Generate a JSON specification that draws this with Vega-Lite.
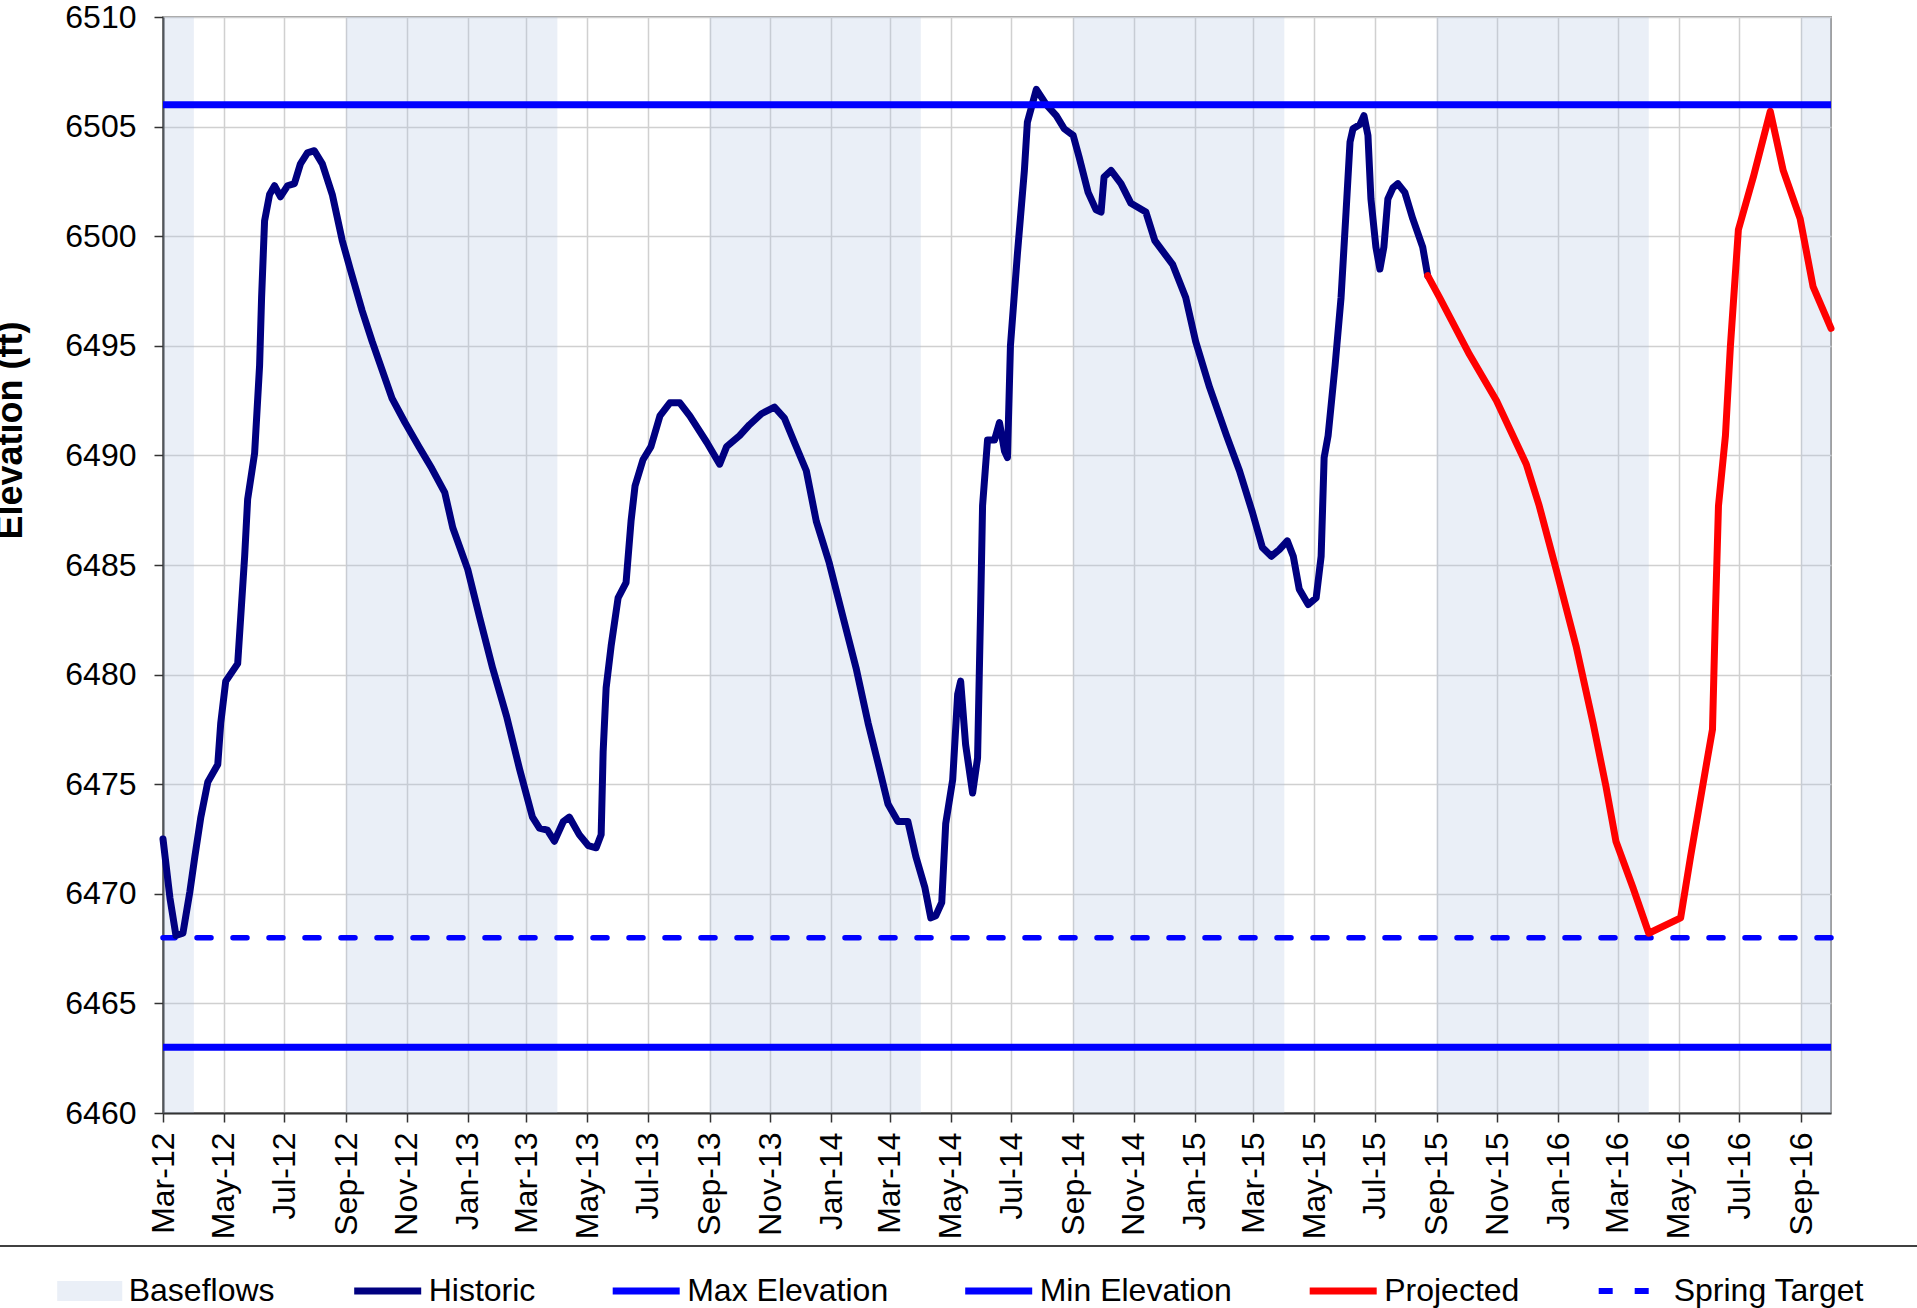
{
  "$schema": "https://vega.github.io/schema/vega-lite/v6.json",
  "width": 1668,
  "height": 1096,
  "autosize": {"type": "none"},
  "padding": {"left": 163, "top": 17, "right": 86, "bottom": 195},
  "background": "#ffffff",
  "datasets": {
    "bands": [
      {"series": "Baseflows", "start": "2012-03-01", "end": "2012-04-01"},
      {"series": "Baseflows", "start": "2012-09-01", "end": "2013-04-01"},
      {"series": "Baseflows", "start": "2013-09-01", "end": "2014-04-01"},
      {"series": "Baseflows", "start": "2014-09-01", "end": "2015-04-01"},
      {"series": "Baseflows", "start": "2015-09-01", "end": "2016-04-01"},
      {"series": "Baseflows", "start": "2016-09-01", "end": "2016-10-01"}
    ],
    "limits": [
      {"series": "Max Elevation", "elev": 6506},
      {"series": "Min Elevation", "elev": 6463},
      {"series": "Spring Target", "elev": 6468}
    ],
    "sep": [
      {"from": "2011-08-01", "to": "2017-02-01", "elev": 6453.93}
    ],
    "levels": [
      {"series": "Historic", "date": "2012-03-01", "elev": 6472.5},
      {"series": "Historic", "date": "2012-03-08", "elev": 6469.8},
      {"series": "Historic", "date": "2012-03-14", "elev": 6468.1},
      {"series": "Historic", "date": "2012-03-21", "elev": 6468.2},
      {"series": "Historic", "date": "2012-03-28", "elev": 6470.1},
      {"series": "Historic", "date": "2012-04-02", "elev": 6471.7},
      {"series": "Historic", "date": "2012-04-08", "elev": 6473.5},
      {"series": "Historic", "date": "2012-04-15", "elev": 6475.1},
      {"series": "Historic", "date": "2012-04-25", "elev": 6475.9},
      {"series": "Historic", "date": "2012-04-28", "elev": 6477.8},
      {"series": "Historic", "date": "2012-05-03", "elev": 6479.7},
      {"series": "Historic", "date": "2012-05-15", "elev": 6480.5},
      {"series": "Historic", "date": "2012-05-18", "elev": 6482.6},
      {"series": "Historic", "date": "2012-05-22", "elev": 6485.4},
      {"series": "Historic", "date": "2012-05-25", "elev": 6488.0},
      {"series": "Historic", "date": "2012-06-01", "elev": 6490.1},
      {"series": "Historic", "date": "2012-06-06", "elev": 6494.1},
      {"series": "Historic", "date": "2012-06-08", "elev": 6497.2},
      {"series": "Historic", "date": "2012-06-11", "elev": 6500.7},
      {"series": "Historic", "date": "2012-06-16", "elev": 6501.9},
      {"series": "Historic", "date": "2012-06-21", "elev": 6502.3},
      {"series": "Historic", "date": "2012-06-27", "elev": 6501.8},
      {"series": "Historic", "date": "2012-07-04", "elev": 6502.3},
      {"series": "Historic", "date": "2012-07-11", "elev": 6502.4},
      {"series": "Historic", "date": "2012-07-17", "elev": 6503.3},
      {"series": "Historic", "date": "2012-07-24", "elev": 6503.8},
      {"series": "Historic", "date": "2012-07-31", "elev": 6503.9},
      {"series": "Historic", "date": "2012-08-08", "elev": 6503.3},
      {"series": "Historic", "date": "2012-08-18", "elev": 6501.9},
      {"series": "Historic", "date": "2012-08-28", "elev": 6499.8},
      {"series": "Historic", "date": "2012-09-05", "elev": 6498.5},
      {"series": "Historic", "date": "2012-09-17", "elev": 6496.6},
      {"series": "Historic", "date": "2012-09-27", "elev": 6495.2},
      {"series": "Historic", "date": "2012-10-07", "elev": 6493.9},
      {"series": "Historic", "date": "2012-10-17", "elev": 6492.6},
      {"series": "Historic", "date": "2012-10-30", "elev": 6491.5},
      {"series": "Historic", "date": "2012-11-13", "elev": 6490.4},
      {"series": "Historic", "date": "2012-11-26", "elev": 6489.4},
      {"series": "Historic", "date": "2012-12-09", "elev": 6488.3},
      {"series": "Historic", "date": "2012-12-17", "elev": 6486.7},
      {"series": "Historic", "date": "2013-01-01", "elev": 6484.8},
      {"series": "Historic", "date": "2013-01-13", "elev": 6482.6},
      {"series": "Historic", "date": "2013-01-26", "elev": 6480.3},
      {"series": "Historic", "date": "2013-02-09", "elev": 6478.1},
      {"series": "Historic", "date": "2013-02-22", "elev": 6475.7},
      {"series": "Historic", "date": "2013-03-07", "elev": 6473.5},
      {"series": "Historic", "date": "2013-03-14", "elev": 6473.0},
      {"series": "Historic", "date": "2013-03-22", "elev": 6472.9},
      {"series": "Historic", "date": "2013-03-29", "elev": 6472.4},
      {"series": "Historic", "date": "2013-04-07", "elev": 6473.3},
      {"series": "Historic", "date": "2013-04-13", "elev": 6473.5},
      {"series": "Historic", "date": "2013-04-23", "elev": 6472.7},
      {"series": "Historic", "date": "2013-05-02", "elev": 6472.2},
      {"series": "Historic", "date": "2013-05-10", "elev": 6472.1},
      {"series": "Historic", "date": "2013-05-15", "elev": 6472.7},
      {"series": "Historic", "date": "2013-05-17", "elev": 6476.5},
      {"series": "Historic", "date": "2013-05-20", "elev": 6479.4},
      {"series": "Historic", "date": "2013-05-25", "elev": 6481.3},
      {"series": "Historic", "date": "2013-06-01", "elev": 6483.5},
      {"series": "Historic", "date": "2013-06-09", "elev": 6484.2},
      {"series": "Historic", "date": "2013-06-14", "elev": 6487.0},
      {"series": "Historic", "date": "2013-06-18", "elev": 6488.6},
      {"series": "Historic", "date": "2013-06-26", "elev": 6489.8},
      {"series": "Historic", "date": "2013-07-04", "elev": 6490.4},
      {"series": "Historic", "date": "2013-07-13", "elev": 6491.8},
      {"series": "Historic", "date": "2013-07-23", "elev": 6492.4},
      {"series": "Historic", "date": "2013-08-02", "elev": 6492.4},
      {"series": "Historic", "date": "2013-08-12", "elev": 6491.8},
      {"series": "Historic", "date": "2013-08-29", "elev": 6490.6},
      {"series": "Historic", "date": "2013-09-11", "elev": 6489.6},
      {"series": "Historic", "date": "2013-09-18", "elev": 6490.4},
      {"series": "Historic", "date": "2013-10-01", "elev": 6490.9},
      {"series": "Historic", "date": "2013-10-11", "elev": 6491.4},
      {"series": "Historic", "date": "2013-10-23", "elev": 6491.9},
      {"series": "Historic", "date": "2013-11-05", "elev": 6492.2},
      {"series": "Historic", "date": "2013-11-15", "elev": 6491.7},
      {"series": "Historic", "date": "2013-11-25", "elev": 6490.6},
      {"series": "Historic", "date": "2013-12-07", "elev": 6489.3},
      {"series": "Historic", "date": "2013-12-17", "elev": 6487.0},
      {"series": "Historic", "date": "2013-12-30", "elev": 6485.1},
      {"series": "Historic", "date": "2014-01-13", "elev": 6482.6},
      {"series": "Historic", "date": "2014-01-26", "elev": 6480.3},
      {"series": "Historic", "date": "2014-02-07", "elev": 6477.8},
      {"series": "Historic", "date": "2014-02-19", "elev": 6475.6},
      {"series": "Historic", "date": "2014-02-27", "elev": 6474.1},
      {"series": "Historic", "date": "2014-03-09", "elev": 6473.3},
      {"series": "Historic", "date": "2014-03-19", "elev": 6473.3},
      {"series": "Historic", "date": "2014-03-27", "elev": 6471.7},
      {"series": "Historic", "date": "2014-04-05", "elev": 6470.3},
      {"series": "Historic", "date": "2014-04-11", "elev": 6468.9},
      {"series": "Historic", "date": "2014-04-16", "elev": 6469.0},
      {"series": "Historic", "date": "2014-04-22", "elev": 6469.6},
      {"series": "Historic", "date": "2014-04-26", "elev": 6473.2},
      {"series": "Historic", "date": "2014-05-03", "elev": 6475.2},
      {"series": "Historic", "date": "2014-05-08", "elev": 6479.1},
      {"series": "Historic", "date": "2014-05-11", "elev": 6479.7},
      {"series": "Historic", "date": "2014-05-16", "elev": 6476.8},
      {"series": "Historic", "date": "2014-05-23", "elev": 6474.6},
      {"series": "Historic", "date": "2014-05-28", "elev": 6476.2},
      {"series": "Historic", "date": "2014-05-31", "elev": 6482.9},
      {"series": "Historic", "date": "2014-06-02", "elev": 6487.7},
      {"series": "Historic", "date": "2014-06-07", "elev": 6490.7},
      {"series": "Historic", "date": "2014-06-14", "elev": 6490.7},
      {"series": "Historic", "date": "2014-06-19", "elev": 6491.5},
      {"series": "Historic", "date": "2014-06-24", "elev": 6490.2},
      {"series": "Historic", "date": "2014-06-27", "elev": 6489.9},
      {"series": "Historic", "date": "2014-06-30", "elev": 6495.0},
      {"series": "Historic", "date": "2014-07-07", "elev": 6499.2},
      {"series": "Historic", "date": "2014-07-14", "elev": 6503.0},
      {"series": "Historic", "date": "2014-07-17", "elev": 6505.2},
      {"series": "Historic", "date": "2014-07-26", "elev": 6506.7},
      {"series": "Historic", "date": "2014-08-05", "elev": 6506.0},
      {"series": "Historic", "date": "2014-08-15", "elev": 6505.5},
      {"series": "Historic", "date": "2014-08-23", "elev": 6504.9},
      {"series": "Historic", "date": "2014-09-01", "elev": 6504.6},
      {"series": "Historic", "date": "2014-09-07", "elev": 6503.6},
      {"series": "Historic", "date": "2014-09-16", "elev": 6502.0},
      {"series": "Historic", "date": "2014-09-24", "elev": 6501.2},
      {"series": "Historic", "date": "2014-09-29", "elev": 6501.1},
      {"series": "Historic", "date": "2014-10-02", "elev": 6502.7},
      {"series": "Historic", "date": "2014-10-09", "elev": 6503.0},
      {"series": "Historic", "date": "2014-10-19", "elev": 6502.4},
      {"series": "Historic", "date": "2014-10-29", "elev": 6501.5},
      {"series": "Historic", "date": "2014-11-13", "elev": 6501.1},
      {"series": "Historic", "date": "2014-11-22", "elev": 6499.8},
      {"series": "Historic", "date": "2014-12-10", "elev": 6498.7},
      {"series": "Historic", "date": "2014-12-23", "elev": 6497.2},
      {"series": "Historic", "date": "2015-01-02", "elev": 6495.2},
      {"series": "Historic", "date": "2015-01-16", "elev": 6493.1},
      {"series": "Historic", "date": "2015-02-02", "elev": 6490.9},
      {"series": "Historic", "date": "2015-02-15", "elev": 6489.3},
      {"series": "Historic", "date": "2015-02-28", "elev": 6487.4},
      {"series": "Historic", "date": "2015-03-10", "elev": 6485.8},
      {"series": "Historic", "date": "2015-03-19", "elev": 6485.4},
      {"series": "Historic", "date": "2015-03-27", "elev": 6485.7},
      {"series": "Historic", "date": "2015-04-04", "elev": 6486.1},
      {"series": "Historic", "date": "2015-04-10", "elev": 6485.4},
      {"series": "Historic", "date": "2015-04-16", "elev": 6483.9},
      {"series": "Historic", "date": "2015-04-25", "elev": 6483.2},
      {"series": "Historic", "date": "2015-05-03", "elev": 6483.5},
      {"series": "Historic", "date": "2015-05-08", "elev": 6485.4},
      {"series": "Historic", "date": "2015-05-11", "elev": 6489.9},
      {"series": "Historic", "date": "2015-05-15", "elev": 6490.9},
      {"series": "Historic", "date": "2015-05-22", "elev": 6494.1},
      {"series": "Historic", "date": "2015-05-28", "elev": 6497.2},
      {"series": "Historic", "date": "2015-06-02", "elev": 6501.1},
      {"series": "Historic", "date": "2015-06-06", "elev": 6504.3},
      {"series": "Historic", "date": "2015-06-09", "elev": 6504.9},
      {"series": "Historic", "date": "2015-06-16", "elev": 6505.1},
      {"series": "Historic", "date": "2015-06-20", "elev": 6505.5},
      {"series": "Historic", "date": "2015-06-24", "elev": 6504.6},
      {"series": "Historic", "date": "2015-06-27", "elev": 6501.7},
      {"series": "Historic", "date": "2015-07-02", "elev": 6499.5},
      {"series": "Historic", "date": "2015-07-06", "elev": 6498.5},
      {"series": "Historic", "date": "2015-07-10", "elev": 6499.5},
      {"series": "Historic", "date": "2015-07-14", "elev": 6501.7},
      {"series": "Historic", "date": "2015-07-19", "elev": 6502.2},
      {"series": "Historic", "date": "2015-07-24", "elev": 6502.4},
      {"series": "Historic", "date": "2015-07-31", "elev": 6502.0},
      {"series": "Historic", "date": "2015-08-08", "elev": 6500.8},
      {"series": "Historic", "date": "2015-08-18", "elev": 6499.5},
      {"series": "Historic", "date": "2015-08-23", "elev": 6498.2},
      {"series": "Projected", "date": "2015-08-23", "elev": 6498.2},
      {"series": "Projected", "date": "2015-09-04", "elev": 6497.2},
      {"series": "Projected", "date": "2015-10-04", "elev": 6494.6},
      {"series": "Projected", "date": "2015-10-31", "elev": 6492.5},
      {"series": "Projected", "date": "2015-11-30", "elev": 6489.6},
      {"series": "Projected", "date": "2015-12-13", "elev": 6487.7},
      {"series": "Projected", "date": "2015-12-30", "elev": 6484.8},
      {"series": "Projected", "date": "2016-01-19", "elev": 6481.3},
      {"series": "Projected", "date": "2016-02-05", "elev": 6477.8},
      {"series": "Projected", "date": "2016-02-18", "elev": 6474.9},
      {"series": "Projected", "date": "2016-02-28", "elev": 6472.4},
      {"series": "Projected", "date": "2016-03-16", "elev": 6470.3},
      {"series": "Projected", "date": "2016-04-01", "elev": 6468.2},
      {"series": "Projected", "date": "2016-05-03", "elev": 6468.9},
      {"series": "Projected", "date": "2016-05-13", "elev": 6471.7},
      {"series": "Projected", "date": "2016-05-30", "elev": 6476.2},
      {"series": "Projected", "date": "2016-06-04", "elev": 6477.5},
      {"series": "Projected", "date": "2016-06-07", "elev": 6482.9},
      {"series": "Projected", "date": "2016-06-10", "elev": 6487.7},
      {"series": "Projected", "date": "2016-06-17", "elev": 6490.9},
      {"series": "Projected", "date": "2016-06-22", "elev": 6495.0},
      {"series": "Projected", "date": "2016-06-30", "elev": 6500.3},
      {"series": "Projected", "date": "2016-07-15", "elev": 6502.7},
      {"series": "Projected", "date": "2016-08-01", "elev": 6505.7},
      {"series": "Projected", "date": "2016-08-14", "elev": 6503.0},
      {"series": "Projected", "date": "2016-08-31", "elev": 6500.8},
      {"series": "Projected", "date": "2016-09-13", "elev": 6497.7},
      {"series": "Projected", "date": "2016-10-01", "elev": 6495.8}
    ]
  },
  "config": {
    "font": "Liberation Sans",
    "view": {"stroke": "#A0A0A0", "strokeWidth": 2},
    "axis": {
      "gridColor": "#D0D0D0",
      "gridWidth": 1.5,
      "domainColor": "#333333",
      "domainWidth": 2,
      "tickColor": "#333333",
      "tickWidth": 1.5,
      "tickSize": 9,
      "labelFont": "Liberation Sans",
      "labelFontSize": 32,
      "labelColor": "#000000",
      "labelOverlap": false
    },
    "axisX": {"labelAngle": -90, "labelPadding": 10},
    "axisY": {"labelPadding": 18},
    "legend": {
      "title": null,
      "orient": "none",
      "direction": "horizontal",
      "padding": 0,
      "labelFont": "Liberation Sans",
      "labelFontSize": 32,
      "labelColor": "#000000",
      "labelLimit": 500
    }
  },
  "layer": [
    {
      "data": {"name": "bands", "format": {"parse": {"start": "date:'%Y-%m-%d'", "end": "date:'%Y-%m-%d'"}}},
      "mark": {"type": "rect", "opacity": 0.25},
      "encoding": {
        "x": {
          "field": "start",
          "type": "temporal",
          "scale": {"domain": [{"year": 2012, "month": 3, "date": 1}, {"year": 2016, "month": 10, "date": 1}]},
          "axis": {
            "title": null,
            "format": "%b-%y",
            "values": [
              {"year": 2012, "month": 3, "date": 1}, {"year": 2012, "month": 5, "date": 1}, {"year": 2012, "month": 7, "date": 1}, {"year": 2012, "month": 9, "date": 1}, {"year": 2012, "month": 11, "date": 1},
              {"year": 2013, "month": 1, "date": 1}, {"year": 2013, "month": 3, "date": 1}, {"year": 2013, "month": 5, "date": 1}, {"year": 2013, "month": 7, "date": 1}, {"year": 2013, "month": 9, "date": 1}, {"year": 2013, "month": 11, "date": 1},
              {"year": 2014, "month": 1, "date": 1}, {"year": 2014, "month": 3, "date": 1}, {"year": 2014, "month": 5, "date": 1}, {"year": 2014, "month": 7, "date": 1}, {"year": 2014, "month": 9, "date": 1}, {"year": 2014, "month": 11, "date": 1},
              {"year": 2015, "month": 1, "date": 1}, {"year": 2015, "month": 3, "date": 1}, {"year": 2015, "month": 5, "date": 1}, {"year": 2015, "month": 7, "date": 1}, {"year": 2015, "month": 9, "date": 1}, {"year": 2015, "month": 11, "date": 1},
              {"year": 2016, "month": 1, "date": 1}, {"year": 2016, "month": 3, "date": 1}, {"year": 2016, "month": 5, "date": 1}, {"year": 2016, "month": 7, "date": 1}, {"year": 2016, "month": 9, "date": 1}
            ]
          }
        },
        "x2": {"field": "end"},
        "fill": {
          "field": "series",
          "type": "nominal",
          "scale": {"domain": ["Baseflows"], "range": ["#ABBFDF"]},
          "legend": {
            "legendX": -105.8,
            "legendY": 1241.5,
            "symbolType": "M-1,-0.31H1V0.31H-1Z",
            "symbolSize": 4225,
            "symbolStrokeWidth": 0,
            "labelOffset": 6.5
          }
        }
      }
    },
    {
      "data": {"name": "limits"},
      "transform": [{"filter": "datum.series === 'Spring Target'"}],
      "mark": {"type": "rule", "color": "#0000FF", "strokeWidth": 5.5, "strokeCap": "round"},
      "encoding": {
        "y": {
          "field": "elev",
          "type": "quantitative",
          "title": "Elevation (ft)",
          "scale": {"domain": [6460, 6510], "nice": false, "zero": false},
          "axis": {
            "values": [6460, 6465, 6470, 6475, 6480, 6485, 6490, 6495, 6500, 6505, 6510],
            "format": "d",
            "title": "Elevation (ft)",
            "titleFont": "Liberation Sans",
            "titleFontSize": 36,
            "titleFontWeight": "bold",
            "titleColor": "#000000",
            "titleAngle": 270,
            "titleAlign": "center",
            "titleBaseline": "alphabetic",
            "titleX": -142,
            "titleY": 413
          }
        },
        "strokeDash": {
          "field": "series",
          "type": "nominal",
          "scale": {"domain": ["Spring Target"], "range": [[14, 22]]},
          "legend": {
            "legendX": 1432.7,
            "legendY": 1242.5,
            "symbolType": "stroke",
            "symbolSize": 3249,
            "symbolStrokeWidth": 6,
            "symbolStrokeColor": "#0000FF",
            "symbolOpacity": 1,
            "labelOffset": 15
          }
        }
      }
    },
    {
      "data": {"name": "levels", "format": {"parse": {"date": "date:'%Y-%m-%d'"}}},
      "mark": {"type": "line", "strokeWidth": 7, "strokeCap": "round", "strokeJoin": "round"},
      "encoding": {
        "x": {"field": "date", "type": "temporal", "title": null},
        "y": {"field": "elev", "type": "quantitative", "title": "Elevation (ft)"},
        "color": {
          "field": "series",
          "type": "nominal",
          "scale": {
            "domain": ["Historic", "Max Elevation", "Min Elevation", "Projected"],
            "range": ["#000080", "#0000FF", "#0000FF", "#FF0000"]
          },
          "legend": {
            "legendX": 187.7,
            "legendY": 1237,
            "symbolType": "stroke",
            "symbolSize": 4489,
            "symbolStrokeWidth": 7,
            "symbolOpacity": 1,
            "labelOffset": 4,
            "columnPadding": 62.5
          }
        }
      }
    },
    {
      "data": {"name": "limits"},
      "transform": [{"filter": "datum.series !== 'Spring Target'"}],
      "mark": {"type": "rule", "strokeWidth": 7},
      "encoding": {
        "y": {"field": "elev", "type": "quantitative", "title": "Elevation (ft)"},
        "color": {"field": "series", "type": "nominal"}
      }
    },
    {
      "data": {"name": "sep", "format": {"parse": {"from": "date:'%Y-%m-%d'", "to": "date:'%Y-%m-%d'"}}},
      "mark": {"type": "rule", "color": "#404040", "strokeWidth": 2},
      "encoding": {
        "x": {"field": "from", "type": "temporal", "title": null},
        "x2": {"field": "to"},
        "y": {"field": "elev", "type": "quantitative", "title": "Elevation (ft)"}
      }
    }
  ]
}
